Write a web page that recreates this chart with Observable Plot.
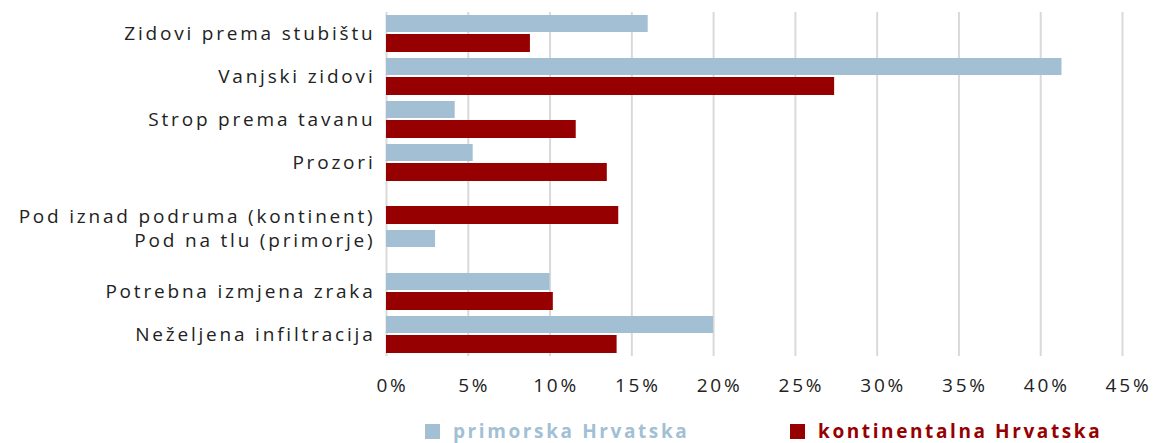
<!DOCTYPE html>
<html>
<head>
<meta charset="utf-8">
<script src="https://cdn.jsdelivr.net/npm/d3@7"></script>
<script src="https://cdn.jsdelivr.net/npm/@observablehq/plot@0.6"></script>
<style>
  body { margin: 0; background: #fff; font-family: "Open Sans", Lato, sans-serif; }
  #legend { height: 38px; font-weight: bold; font-size: 19px; letter-spacing: 2.6px; position: relative; }
  .item { display: flex; align-items: center; position: absolute; top: 13px; }
  .sw { width: 15px; height: 15px; display: inline-block; margin-right: 13px; }
</style>
</head>
<body>
<div id="chart"></div>
<div id="legend">
  <div class="item" style="left:425px; color:#a2bfd4;"><span class="sw" style="background:#a2bfd4"></span>primorska Hrvatska</div>
  <div class="item" style="left:790px; color:#960000;"><span class="sw" style="background:#960000"></span>kontinentalna Hrvatska</div>
</div>
<script>
const categories = [
  "Zidovi prema stubištu",
  "Vanjski zidovi",
  "Strop prema tavanu",
  "Prozori",
  "Pod iznad podruma (kontinent)",
  "Pod na tlu (primorje)",
  "Potrebna izmjena zraka",
  "Neželjena infiltracija"
];
const primorska = [0.16, 0.413, 0.042, 0.053, null, 0.030, 0.100, 0.200];
const kontinentalna = [0.088, 0.274, 0.116, 0.135, 0.142, null, 0.102, 0.141];
const xTicks = [0, 0.05, 0.10, 0.15, 0.20, 0.25, 0.30, 0.35, 0.40, 0.45];

const prim = categories.map((c, i) => ({cat: c, v: primorska[i]})).filter(d => d.v != null);
const kont = categories.map((c, i) => ({cat: c, v: kontinentalna[i]})).filter(d => d.v != null);

const normalLabels = categories.filter(c => !c.startsWith("Pod "));

const chart = Plot.plot({
  width: 1162,
  height: 405,
  marginLeft: 386,
  marginRight: 40,
  marginTop: 12,
  marginBottom: 49,
  style: {fontFamily: "'Open Sans', Lato, sans-serif", fontSize: "19px", color: "#222", letterSpacing: "2.8px"},
  x: {domain: [0, 0.45], ticks: xTicks, tickFormat: d => Math.round(d * 100) + "%", tickSize: 0, tickPadding: 22, label: null, axis: null},
  y: {domain: categories, axis: null, padding: 0},
  marks: [
    Plot.ruleX(xTicks, {stroke: "#d9d9d9", strokeWidth: 2}),
    Plot.axisX({ticks: xTicks, tickFormat: d => Math.round(d * 100) + "%", tickSize: 0, tickPadding: 22, dx: 6, label: null, fill: "#222"}),
    Plot.barX(prim, {x: "v", y: "cat", fill: "#a2bfd4", insetTop: 3, insetBottom: 23}),
    Plot.barX(kont, {x: "v", y: "cat", fill: "#960000", insetTop: 22, insetBottom: 3}),
    Plot.text(normalLabels, {y: d => d, text: d => d, frameAnchor: "left", textAnchor: "end", dx: -11, fill: "#222"}),
    Plot.text(["Pod iznad podruma (kontinent)"], {y: d => d, text: d => d, frameAnchor: "left", textAnchor: "end", dx: -11, dy: 11, fill: "#222"}),
    Plot.text(["Pod na tlu (primorje)"], {y: d => d, text: d => d, frameAnchor: "left", textAnchor: "end", dx: -11, dy: -8, fill: "#222"})
  ]
});
document.getElementById("chart").appendChild(chart);
</script>
</body>
</html>
